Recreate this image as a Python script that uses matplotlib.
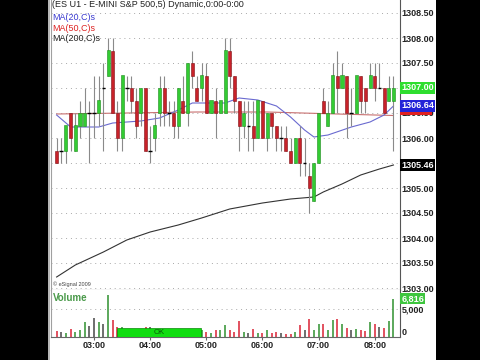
import numpy as np
import matplotlib.pyplot as plt
from matplotlib.patches import Rectangle

plt.rcParams['font.family'] = ['Liberation Sans', 'DejaVu Sans']

# 5 minute bars, ES U1, 02:20 -> 08:20
opens = [1305.75, 1305.75, 1305.75, 1306.5, 1305.75, 1306.25, 1306.25, 1306.5, 1306.5, 1306.5,
         1307.0, 1307.25, 1307.75, 1306.5, 1306.0, 1307.0, 1307.0, 1306.75, 1306.5, 1307.0,
         1305.75, 1306.0, 1306.5, 1307.0, 1306.5, 1306.5, 1306.25, 1306.75, 1306.5, 1307.5,
         1307.0, 1307.0, 1307.25, 1306.5, 1306.75, 1306.5, 1306.5, 1307.75, 1307.25, 1306.75,
         1306.25, 1306.25, 1306.25, 1306.0, 1306.75, 1306.0, 1306.5, 1306.25, 1306.0, 1306.0,
         1305.75, 1305.5, 1306.0, 1305.5, 1305.25, 1304.75, 1305.5, 1306.75, 1306.25, 1306.5,
         1307.25, 1307.0, 1307.25, 1306.5, 1306.5, 1307.25, 1307.0, 1307.0, 1307.25, 1307.0,
         1307.0, 1306.75, 1306.75]
highs = [1306.0, 1306.0, 1306.25, 1306.5, 1306.5, 1306.75, 1307.0, 1306.75, 1307.25, 1307.25,
         1307.5, 1308.0, 1308.0, 1306.75, 1307.25, 1307.25, 1307.25, 1307.0, 1307.0, 1307.0,
         1306.25, 1306.5, 1307.25, 1307.25, 1306.75, 1306.75, 1307.0, 1307.25, 1307.5, 1307.75,
         1307.25, 1307.5, 1307.5, 1306.75, 1307.0, 1306.75, 1308.0, 1308.0, 1307.25, 1306.75,
         1306.75, 1306.75, 1306.75, 1306.75, 1306.75, 1306.5, 1306.5, 1306.25, 1306.25, 1306.25,
         1306.0, 1306.0, 1306.25, 1306.0, 1305.5, 1305.5, 1306.5, 1307.0, 1306.75, 1307.5,
         1307.75, 1307.5, 1307.25, 1307.0, 1307.25, 1307.25, 1307.0, 1307.5, 1307.5, 1307.5,
         1307.0, 1307.25, 1307.25]
lows = [1305.5, 1305.5, 1305.5, 1305.75, 1305.75, 1306.0, 1306.25, 1305.5, 1306.0, 1306.25,
        1305.75, 1307.25, 1306.5, 1305.75, 1305.75, 1306.75, 1306.5, 1306.0, 1306.25, 1305.75,
        1305.5, 1305.75, 1306.25, 1306.25, 1306.25, 1306.0, 1306.0, 1306.5, 1306.25, 1307.0,
        1306.75, 1306.75, 1306.5, 1306.5, 1306.0, 1306.5, 1306.5, 1307.0, 1306.5, 1305.75,
        1306.0, 1305.75, 1305.75, 1306.0, 1306.0, 1305.75, 1306.0, 1305.75, 1305.75, 1305.75,
        1305.5, 1305.5, 1305.25, 1305.25, 1304.5, 1304.75, 1305.5, 1306.5, 1306.25, 1306.5,
        1306.5, 1307.0, 1306.0, 1306.25, 1306.5, 1306.5, 1306.5, 1307.0, 1306.75, 1307.0,
        1306.5, 1306.75, 1305.75]
closes = [1305.5, 1305.75, 1306.25, 1306.0, 1306.25, 1306.5, 1306.5, 1306.5, 1306.5, 1306.75,
          1307.0, 1307.75, 1306.5, 1306.0, 1307.25, 1307.0, 1306.75, 1306.25, 1307.0, 1305.75,
          1305.75, 1306.25, 1307.0, 1306.5, 1306.5, 1306.25, 1307.0, 1306.5, 1307.5, 1307.25,
          1306.75, 1307.25, 1306.5, 1306.75, 1306.5, 1306.75, 1307.75, 1307.25, 1306.75, 1306.25,
          1306.5, 1306.25, 1306.0, 1306.75, 1306.0, 1306.5, 1306.25, 1306.0, 1306.0, 1305.75,
          1305.5, 1306.0, 1305.5, 1305.5, 1305.0, 1305.5, 1306.5, 1306.5, 1306.5, 1307.25,
          1307.0, 1307.25, 1306.5, 1306.5, 1307.25, 1306.75, 1306.75, 1307.25, 1307.0, 1307.0,
          1306.5, 1307.0, 1307.0]
volumes = [1050, 900, 700, 1500, 900, 1200, 2700, 1900, 3450, 2700,
           2250, 7450, 3000, 1800, 1700, 1200, 900, 1100, 1400, 1800,
           1700, 1000, 1300, 900, 1200, 800, 1100, 1300, 1000, 1400,
           900, 1200, 900, 700, 1200, 1300, 2200, 1200, 900, 2900,
           900, 700, 1500, 700, 800, 1300, 650, 950, 750, 500,
           500, 950, 2100, 1200, 3300, 1250, 2250, 2250, 1200, 3000,
           3300, 2250, 1650, 1200, 1350, 1250, 1100, 2750, 2400, 1850,
           1650, 2850, 6816]

hour_idx = [8, 20, 32, 44, 56, 68]
hour_labels = ['03:00', '04:00', '05:00', '06:00', '07:00', '08:00']

# moving averages at some bars
ma20_idx = [0, 3, 9, 12, 18, 22, 26, 29, 36, 39, 43, 47, 50, 53, 55, 58, 63, 67, 70, 72]
ma20_vals = [1306.46, 1306.22, 1306.22, 1306.30, 1306.34, 1306.40, 1306.56, 1306.70, 1306.70, 1306.80,
             1306.76, 1306.64, 1306.42, 1306.16, 1306.02, 1306.06, 1306.22, 1306.32, 1306.46, 1306.64]
ma50_idx = [0, 15, 30, 45, 60, 72]
ma50_vals = [1306.48, 1306.50, 1306.52, 1306.52, 1306.48, 1306.45]
ma200_idx = [0, 4, 10, 15, 20, 26, 31, 37, 44, 50, 55, 57, 61, 65, 69, 72]
ma200_vals = [1303.22, 1303.46, 1303.72, 1303.96, 1304.12, 1304.26, 1304.40, 1304.58, 1304.70, 1304.78,
              1304.82, 1304.92, 1305.08, 1305.26, 1305.38, 1305.46]

o = np.array(opens); h = np.array(highs); l = np.array(lows); c = np.array(closes)
x = np.arange(len(o))
up = c > o
dn = c < o
dj = c == o

fig = plt.figure(figsize=(4.8, 3.6), dpi=100, facecolor='black')
fig.patches.append(Rectangle((48/480, 0), 388/480, 1, transform=fig.transFigure,
                             facecolor='white', edgecolor='none', zorder=-5))
fig.patches.append(Rectangle((48/480, 0), 2/480, 1, transform=fig.transFigure,
                             facecolor='#b8b8b8', edgecolor='none', zorder=-4))

ax = fig.add_axes([51/480, 70/360, 349/480, 290/360])
axv = fig.add_axes([51/480, 23/360, 349/480, 47/360])
for a in (ax, axv):
    a.set_facecolor('white')
    a.set_xlim(-1.2, 73.4)
    a.spines['top'].set_visible(False)
    a.spines['left'].set_color('#a0a0a0')
    a.spines['right'].set_color('#555555')
    a.spines['bottom'].set_color('#666666')

# price panel
ax.set_ylim(1302.96, 1308.76)
ax.set_yticks(np.arange(1303.0, 1308.51, 0.5))
ax.set_yticklabels([f'{v:.2f}' for v in np.arange(1303.0, 1308.51, 0.5)],
                   fontsize=6.5, fontweight='bold', color='#222222')
ax.yaxis.tick_right()
ax.tick_params(axis='y', length=0, pad=1)
ax.set_xticks([])
ax.grid(axis='y', color='#a8a8a8', ls=(0, (1, 4)), lw=0.7)
ax.set_axisbelow(True)

ax.plot(ma200_idx, ma200_vals, color='#333333', lw=0.8, zorder=1.5)
ax.plot(ma50_idx, ma50_vals, color='#c87070', lw=0.8, zorder=1.5)
ax.plot(ma20_idx, ma20_vals, color='#6a6ad0', lw=0.8, zorder=1.5)

ax.vlines(x, l, h, color='#8a8a8a', lw=0.8, zorder=2)
ax.bar(x[up], c[up] - o[up], bottom=o[up], width=0.65, color='#33cc33',
       edgecolor='#1c8c1c', lw=0.4, zorder=3)
ax.bar(x[dn], c[dn] - o[dn], bottom=o[dn], width=0.65, color='#c8222a',
       edgecolor='#801015', lw=0.4, zorder=3)
ax.hlines(c[dj], x[dj] - 0.4, x[dj] + 0.4, color='black', lw=1.0, zorder=3)

ax.text(0.003, 0.984, '(ES U1 - E-MINI S&P 500,5) Dynamic,0:00-0:00', transform=ax.transAxes,
        fontsize=6.5, color='#222222', va='center')
ax.text(0.003, 0.938, 'MA(20,C)s', transform=ax.transAxes, fontsize=6.5, color='#3a3ad0', va='center')
ax.text(0.003, 0.903, 'MA(50,C)s', transform=ax.transAxes, fontsize=6.5, color='#dd2222', va='center')
ax.text(0.003, 0.866, 'MA(200,C)s', transform=ax.transAxes, fontsize=6.5, color='#222222', va='center')
ax.text(0.006, 0.021, '\u00a9 eSignal 2009', transform=ax.transAxes, fontsize=4, color='#444444',
        va='center')

# right side value boxes (the MA50 one is almost hidden under the MA20 one)
tr = ax.get_yaxis_transform()
ax.text(1.004, closes[-1], f'{closes[-1]:.2f}', transform=tr, fontsize=6.5, color='white',
        fontweight='bold', va='center', clip_on=False, zorder=10,
        bbox=dict(boxstyle='square,pad=0.12', fc='#2ede2e', ec='none'))
ax.text(1.004, ma20_vals[-1] - 0.06, ' ' * 12, transform=tr, fontsize=6.5, color='white',
        va='center', clip_on=False, zorder=10,
        bbox=dict(boxstyle='square,pad=0.12', fc='#e02020', ec='none'))
ax.text(1.004, ma20_vals[-1], f'{ma20_vals[-1]:.2f}', transform=tr, fontsize=6.5, color='white',
        fontweight='bold', va='center', clip_on=False, zorder=11,
        bbox=dict(boxstyle='square,pad=0.12', fc='#2323d8', ec='none'))
ax.text(1.004, ma200_vals[-1], f'{ma200_vals[-1]:.2f}', transform=tr, fontsize=6.5, color='white',
        fontweight='bold', va='center', clip_on=False, zorder=10,
        bbox=dict(boxstyle='square,pad=0.12', fc='black', ec='none'))

# volume panel
vcol = np.where(up, '#3f9a3f', np.where(dn, '#dd3344', '#555555'))
axv.vlines(x, 0, volumes, colors=vcol, lw=1.2)
axv.set_ylim(0, 8393)
axv.axhline(5000, color='#a8a8a8', ls=(0, (1, 4)), lw=0.7, zorder=0)
axv.yaxis.tick_right()
axv.set_yticks([0, 5000])
axv.set_yticklabels(['0', '5,000'], fontsize=6.5, fontweight='bold', color='#222222')
axv.get_yticklabels()[0].set_verticalalignment('bottom')
axv.set_xticks(hour_idx)
axv.set_xticklabels(hour_labels, fontsize=6.5, fontweight='bold', color='#222222')
axv.tick_params(axis='y', length=0, pad=1)
axv.tick_params(axis='x', length=2, pad=1, color='#666666')
axv.text(0.005, 0.83, 'Volume', transform=axv.transAxes, fontsize=7, fontweight='bold',
         color='#4a9a4a', va='center')
axv.text(1.004, volumes[-1], f'{volumes[-1]:,}', transform=axv.get_yaxis_transform(), fontsize=6.5,
         color='white', fontweight='bold', va='center', clip_on=False, zorder=10,
         bbox=dict(boxstyle='square,pad=0.12', fc='#3ec63e', ec='none'))

# the "OK" button sitting on top of the volume bars
axv.add_patch(Rectangle((0.189, 0.0), 0.241, 0.19, transform=axv.transAxes,
                        facecolor='#11dd11', edgecolor='#0a8a0a', lw=0.5, zorder=5))
axv.text(0.31, 0.095, 'OK', transform=axv.transAxes, fontsize=5.5, color='#0a5a0a',
         ha='center', va='center', zorder=6)

fig.savefig('out.png', dpi=100, facecolor='black')
